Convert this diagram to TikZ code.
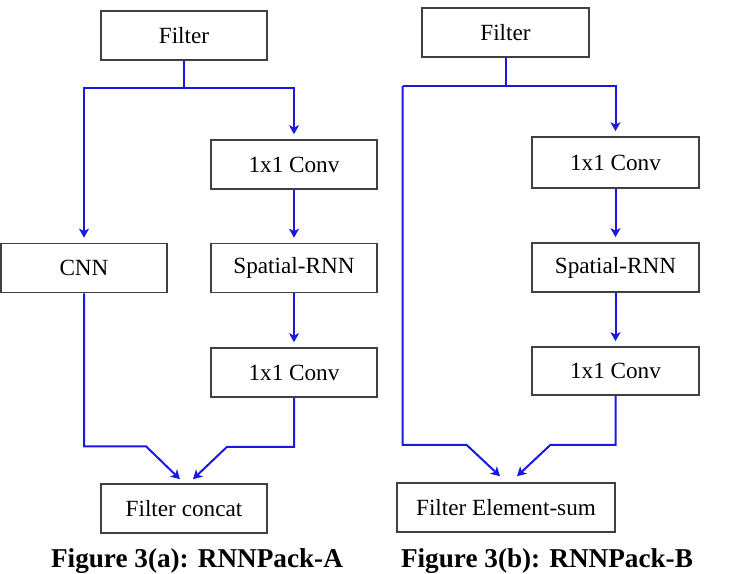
\documentclass[tikz,border=0pt]{standalone}
\usepackage{fontspec}
\setmainfont{Liberation Serif}
\usetikzlibrary{arrows.meta}
\definecolor{linkblue}{RGB}{25,25,225}
\begin{document}
\begin{tikzpicture}[x=0.5pt,y=-0.5pt,
	box/.style={draw=black!75,line width=0.8pt,minimum width=83pt,minimum height=24.5pt,inner sep=0pt,font=\fontsize{11.6}{13}\selectfont},
	widebox/.style={box,minimum width=109pt},
	link/.style={draw=linkblue,line width=1pt,-{Stealth[length=4.5pt,width=5pt,inset=1.2pt]},shorten >=2.5pt},
	caption/.style={anchor=base,font=\fontsize{13.6}{16}\selectfont\bfseries}]
			\useasboundingbox (0,0) rectangle (735,574);
			\node [box] (filterA) at (184,35.5) {Filter};
			\node [box] (cnn) at (84,268) {CNN};
			\node [box] (convA1) at (294,164.5) {1x1 Conv};
			\node [box] (rnnA) at (294,268) {Spatial-RNN};
			\node [box] (convA2) at (294,372.5) {1x1 Conv};
			\node [box] (concat) at (184,508.5) {Filter concat};
			\node [caption] (capA) at (197,567) {Figure 3(a): RNNPack-A};
			\draw [link] (filterA.south) -- ++(0,27) -| (cnn.north);
			\draw [link] (filterA.south) -- ++(0,27) -| (convA1.north);
			\draw [link] (convA1) -- (rnnA);
			\draw [link] (rnnA) -- (convA2);
			\draw [link,shorten >=0pt] (cnn.south) -- ++(0,153) -- ++(62,0) -- ([shift={(-4,-4)}]concat.north);
			\draw [link,shorten >=0pt] (convA2.south) -- ++(0,49) -- ++(-67,0) -- ([shift={(9,-4)}]concat.north);
			\node [box,minimum width=83.5pt] (filterB) at (505.5,32.5) {Filter};
			\node [box,minimum width=83.5pt,minimum height=25.5pt] (convB1) at (615.5,162.5) {1x1 Conv};
			\node [box,minimum width=83.5pt] (rnnB) at (615.5,267.5) {Spatial-RNN};
			\node [box,minimum width=83.5pt,minimum height=24pt] (convB2) at (615.5,371) {1x1 Conv};
			\node [widebox] (sumB) at (506,507.5) {Filter Element-sum};
			\node [caption] (capB) at (547,567) {Figure 3(b): RNNPack-B};
			\draw [draw=linkblue,line width=1pt] (filterB.south) -- ++(0,28) -| ++(-103,0) coordinate (skipB);
			\draw [link] (filterB.south) -- ++(0,28) -| (convB1.north);
			\draw [link] (convB1) -- (rnnB);
			\draw [link] (rnnB) -- (convB2);
			\draw [link,shorten >=0pt] (skipB) -- ++(0,359) -- ++(64,0) -- ([shift={(-6,-6)}]sumB.north);
			\draw [link,shorten >=0pt] (convB2.south) -- ++(0,49) -- ++(-65,0) -- ([shift={(11,-6)}]sumB.north);
\end{tikzpicture}
\end{document}
